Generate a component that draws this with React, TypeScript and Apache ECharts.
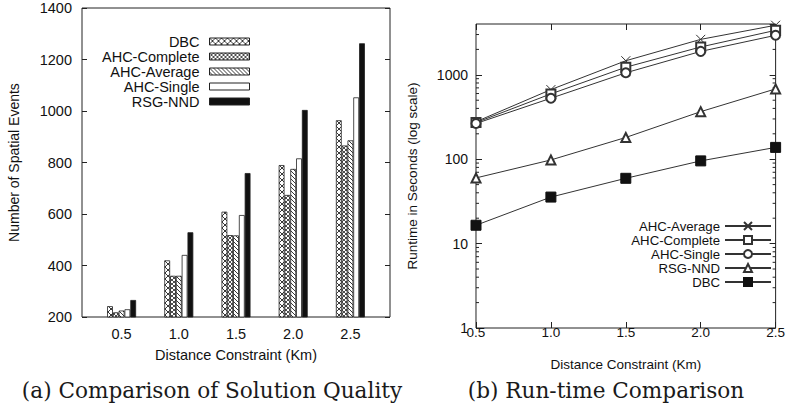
import React, { useEffect, useRef } from "react";
import * as echarts from "echarts";

// ---------- data: (a) solution quality ----------
const categories = ["0.5", "1.0", "1.5", "2.0", "2.5"];
const barNames = ["DBC", "AHC-Complete", "AHC-Average", "AHC-Single", "RSG-NND"];
const dbcEvents = [242, 420, 609, 790, 964];
const ahcCompleteEvents = [218, 360, 518, 674, 866];
const ahcAverageEvents = [225, 360, 517, 775, 886];
const ahcSingleEvents = [230, 441, 596, 816, 1053];
const rsgNndEvents = [266, 529, 759, 1004, 1263];

// ---------- data: (b) run-time ----------
const distances = [0.5, 1.0, 1.5, 2.0, 2.5];
const lineNames = ["AHC-Average", "AHC-Complete", "AHC-Single", "RSG-NND", "DBC"];
const ahcAverageRuntime = [278, 668, 1468, 2630, 3866];
const ahcCompleteRuntime = [272, 594, 1230, 2137, 3366];
const ahcSingleRuntime = [265, 528, 1056, 1894, 2938];
const rsgNndRuntime = [60, 98, 181, 366, 681];
const dbcRuntime = [16.5, 35.6, 59.4, 95.5, 138];
const logMinorTicks = [2, 3, 4, 5, 6, 7, 8, 9, 20, 30, 40, 50, 60, 70, 80, 90, 200, 300, 400, 500, 600, 700, 800, 900, 2000, 3000];

const SANS = '"Liberation Sans", Arial, sans-serif';
const SERIF = '"DejaVu Serif", serif';
const INK = "#111";

function hatch(size: number, back: boolean, fwd: boolean, lw: number) {
  const c = document.createElement("canvas");
  c.width = size;
  c.height = size;
  const ctx = c.getContext("2d")!;
  ctx.fillStyle = "#fff";
  ctx.fillRect(0, 0, size, size);
  ctx.strokeStyle = "#222";
  ctx.lineWidth = lw;
  ctx.beginPath();
  if (back) {
    ctx.moveTo(-1, -1);
    ctx.lineTo(size + 1, size + 1);
  }
  if (fwd) {
    ctx.moveTo(-1, size + 1);
    ctx.lineTo(size + 1, -1);
  }
  ctx.stroke();
  return { image: c, repeat: "repeat", imageWidth: size, imageHeight: size } as any;
}

export default function App() {
  const ref = useRef<HTMLDivElement>(null);
  useEffect(() => {
    if (!ref.current) return;
    const chart = echarts.init(ref.current, undefined, { renderer: "svg" });

    const fills: any[] = [
      hatch(6, true, true, 0.9),
      hatch(4, true, true, 0.8),
      hatch(4, true, false, 0.9),
      "#ffffff",
      "#111111",
    ];
    const barData = [dbcEvents, ahcCompleteEvents, ahcAverageEvents, ahcSingleEvents, rsgNndEvents];
    const lineData = [ahcAverageRuntime, ahcCompleteRuntime, ahcSingleRuntime, rsgNndRuntime, dbcRuntime];
    const symbols = [
      "path://M0,0L10,10M10,0L0,10",
      "emptyRect",
      "emptyCircle",
      "emptyTriangle",
      "rect",
    ];

    const barSeries = barNames.map((name, i) => ({
      name,
      type: "bar",
      xAxisIndex: 0,
      yAxisIndex: 0,
      data: barData[i],
      barWidth: 5.8,
      barGap: "0%",
      itemStyle: { color: fills[i], borderColor: "#222", borderWidth: 0.8 },
      emphasis: { disabled: true },
    }));

    const lineSeries = lineNames.map((name, i) => ({
      name: "rt-" + name,
      type: "line",
      xAxisIndex: 3,
      yAxisIndex: 3,
      data: distances.map((d, k) => [d, lineData[i][k]]),
      symbol: symbols[i],
      symbolSize: i === 4 ? 10 : 9,
      showAllSymbol: true,
      lineStyle: { color: "#333", width: 1 },
      itemStyle:
        i === 4
          ? { color: "#111", borderColor: "#111", borderWidth: 1 }
          : { color: "#333", borderColor: "#333", borderWidth: 1 },
      emphasis: { disabled: true },
    }));

    const minorTickSeries = {
      type: "custom",
      xAxisIndex: 3,
      yAxisIndex: 3,
      silent: true,
      data: logMinorTicks.map((v) => [distances[0], v]),
      renderItem: (_p: any, api: any) => {
        const v = api.value(1);
        const l = api.coord([distances[0], v]);
        const r = api.coord([distances[distances.length - 1], v]);
        const st = { stroke: "#222", lineWidth: 1 };
        return {
          type: "group",
          children: [
            { type: "line", shape: { x1: l[0], y1: l[1], x2: l[0] + 3, y2: l[1] }, style: st },
            { type: "line", shape: { x1: r[0] - 3, y1: r[1], x2: r[0], y2: r[1] }, style: st },
          ],
        };
      },
    };

    const legendText = { fontFamily: SANS, color: INK };
    const leftLegends = barNames.map((n, i) => ({
      data: [n],
      orient: "vertical",
      align: "right",
      right: 538,
      top: 34 + i * 15,
      itemWidth: 40,
      itemHeight: 7,
      padding: 0,
      icon: "rect",
      selectedMode: false,
      itemStyle: { borderWidth: 1, borderColor: "#222" },
      textStyle: { ...legendText, fontSize: 14.5, lineHeight: 14, padding: [0, 5, 0, 0] },
    }));
    const rightLegends = lineNames.map((n, i) => ({
      data: ["rt-" + n],
      orient: "vertical",
      align: "right",
      right: 16,
      top: 219.5 + i * 14,
      itemWidth: 46,
      itemHeight: 10,
      padding: 0,
      selectedMode: false,
      formatter: (s: string) => s.slice(3),
      textStyle: { ...legendText, fontSize: 13.2, lineHeight: 13 },
    }));

    const tickLabel = { fontFamily: SANS, color: INK };
    const axisName = { fontFamily: SANS, color: INK };

    chart.setOption({
      animation: false,
      backgroundColor: "#fff",
      grid: [
        { left: 93, top: 8, width: 286, height: 309 },
        { left: 82, top: 8, width: 308, height: 309, show: true, borderColor: "#222", borderWidth: 1, backgroundColor: "transparent" },
        { left: 476, top: 24, width: 303, height: 304, show: true, borderColor: "#222", borderWidth: 1, backgroundColor: "transparent" },
      ],
      xAxis: [
        {
          gridIndex: 0,
          type: "category",
          data: categories,
          position: "bottom",
          axisLine: { show: false },
          axisTick: { inside: true, alignWithLabel: true, length: 5, lineStyle: { color: "#222" } },
          axisLabel: { interval: 0, margin: 9, fontSize: 14.5, ...tickLabel },
          name: "Distance Constraint (Km)",
          nameLocation: "middle",
          nameGap: 30,
          nameTextStyle: { fontSize: 14.5, ...axisName },
        },
        {
          gridIndex: 0,
          type: "category",
          data: categories,
          position: "top",
          axisLine: { show: false },
          axisTick: { inside: true, alignWithLabel: true, length: 5, lineStyle: { color: "#222" } },
          axisLabel: { show: false },
        },
        { gridIndex: 1, type: "value", min: 0, max: 1, show: false },
        {
          gridIndex: 2,
          type: "value",
          min: 0.5,
          max: 2.5,
          interval: 0.5,
          position: "bottom",
          axisLine: { show: false },
          splitLine: { show: false },
          axisTick: { inside: true, length: 6, lineStyle: { color: "#222" } },
          axisLabel: { margin: -3, fontSize: 13.5, ...tickLabel, formatter: (v: number) => v.toFixed(1) },
          name: "Distance Constraint (Km)",
          nameLocation: "middle",
          nameGap: 29,
          nameTextStyle: { fontSize: 13.5, ...axisName },
        },
        {
          gridIndex: 2,
          type: "value",
          min: 0.5,
          max: 2.5,
          interval: 0.5,
          position: "top",
          axisLine: { show: false },
          splitLine: { show: false },
          axisTick: { inside: true, length: 6, lineStyle: { color: "#222" } },
          axisLabel: { show: false },
        },
      ],
      yAxis: [
        { gridIndex: 0, type: "value", min: 200, max: 1400, show: false },
        {
          gridIndex: 1,
          type: "value",
          min: 200,
          max: 1400,
          interval: 200,
          position: "left",
          axisLine: { show: false },
          splitLine: { show: false },
          axisTick: { show: true, inside: true, length: 5, lineStyle: { color: "#222" } },
          axisLabel: { margin: 10, fontSize: 14.5, ...tickLabel, formatter: (v: number) => String(v) },
          name: "Number of Spatial Events",
          nameLocation: "middle",
          nameGap: 61,
          nameTextStyle: { fontSize: 14, ...axisName },
        },
        {
          gridIndex: 1,
          type: "value",
          min: 200,
          max: 1400,
          interval: 200,
          position: "right",
          axisLine: { show: false },
          splitLine: { show: false },
          axisTick: { show: true, inside: true, length: 5, lineStyle: { color: "#222" } },
          axisLabel: { show: false },
        },
        {
          gridIndex: 2,
          type: "log",
          logBase: 10,
          min: 1,
          max: 4000,
          position: "left",
          axisLine: { show: false },
          splitLine: { show: false },
          axisTick: { show: true, inside: true, length: 6, lineStyle: { color: "#222" } },
          axisLabel: {
            margin: 8,
            fontSize: 14,
            ...tickLabel,
            showMaxLabel: false,
            formatter: (v: number) => String(Math.round(v)),
          },
          name: "Runtime in Seconds (log scale)",
          nameLocation: "middle",
          nameGap: 57,
          nameTextStyle: { fontSize: 13.5, ...axisName },
        },
        {
          gridIndex: 2,
          type: "log",
          logBase: 10,
          min: 1,
          max: 4000,
          position: "right",
          axisLine: { show: false },
          splitLine: { show: false },
          axisTick: { show: true, inside: true, length: 6, lineStyle: { color: "#222" } },
          axisLabel: { show: false },
        },
      ],
      legend: [...leftLegends, ...rightLegends],
      series: [...barSeries, ...lineSeries, minorTickSeries],
      graphic: [
        {
          type: "text",
          x: 212,
          y: 390,
          style: {
            text: "(a) Comparison of Solution Quality",
            fontFamily: SERIF,
            fontSize: 21.6,
            fill: "#1a1a1a",
            textAlign: "center",
            textVerticalAlign: "middle",
          },
        },
        {
          type: "text",
          x: 606,
          y: 390,
          style: {
            text: "(b) Run-time Comparison",
            fontFamily: SERIF,
            fontSize: 21.6,
            fill: "#1a1a1a",
            textAlign: "center",
            textVerticalAlign: "middle",
          },
        },
      ],
    });

    return () => chart.dispose();
  }, []);

  return (
    <div
      ref={ref}
      style={{ position: "absolute", left: 0, top: 0, width: 788, height: 413, background: "#fff" }}
    />
  );
}
